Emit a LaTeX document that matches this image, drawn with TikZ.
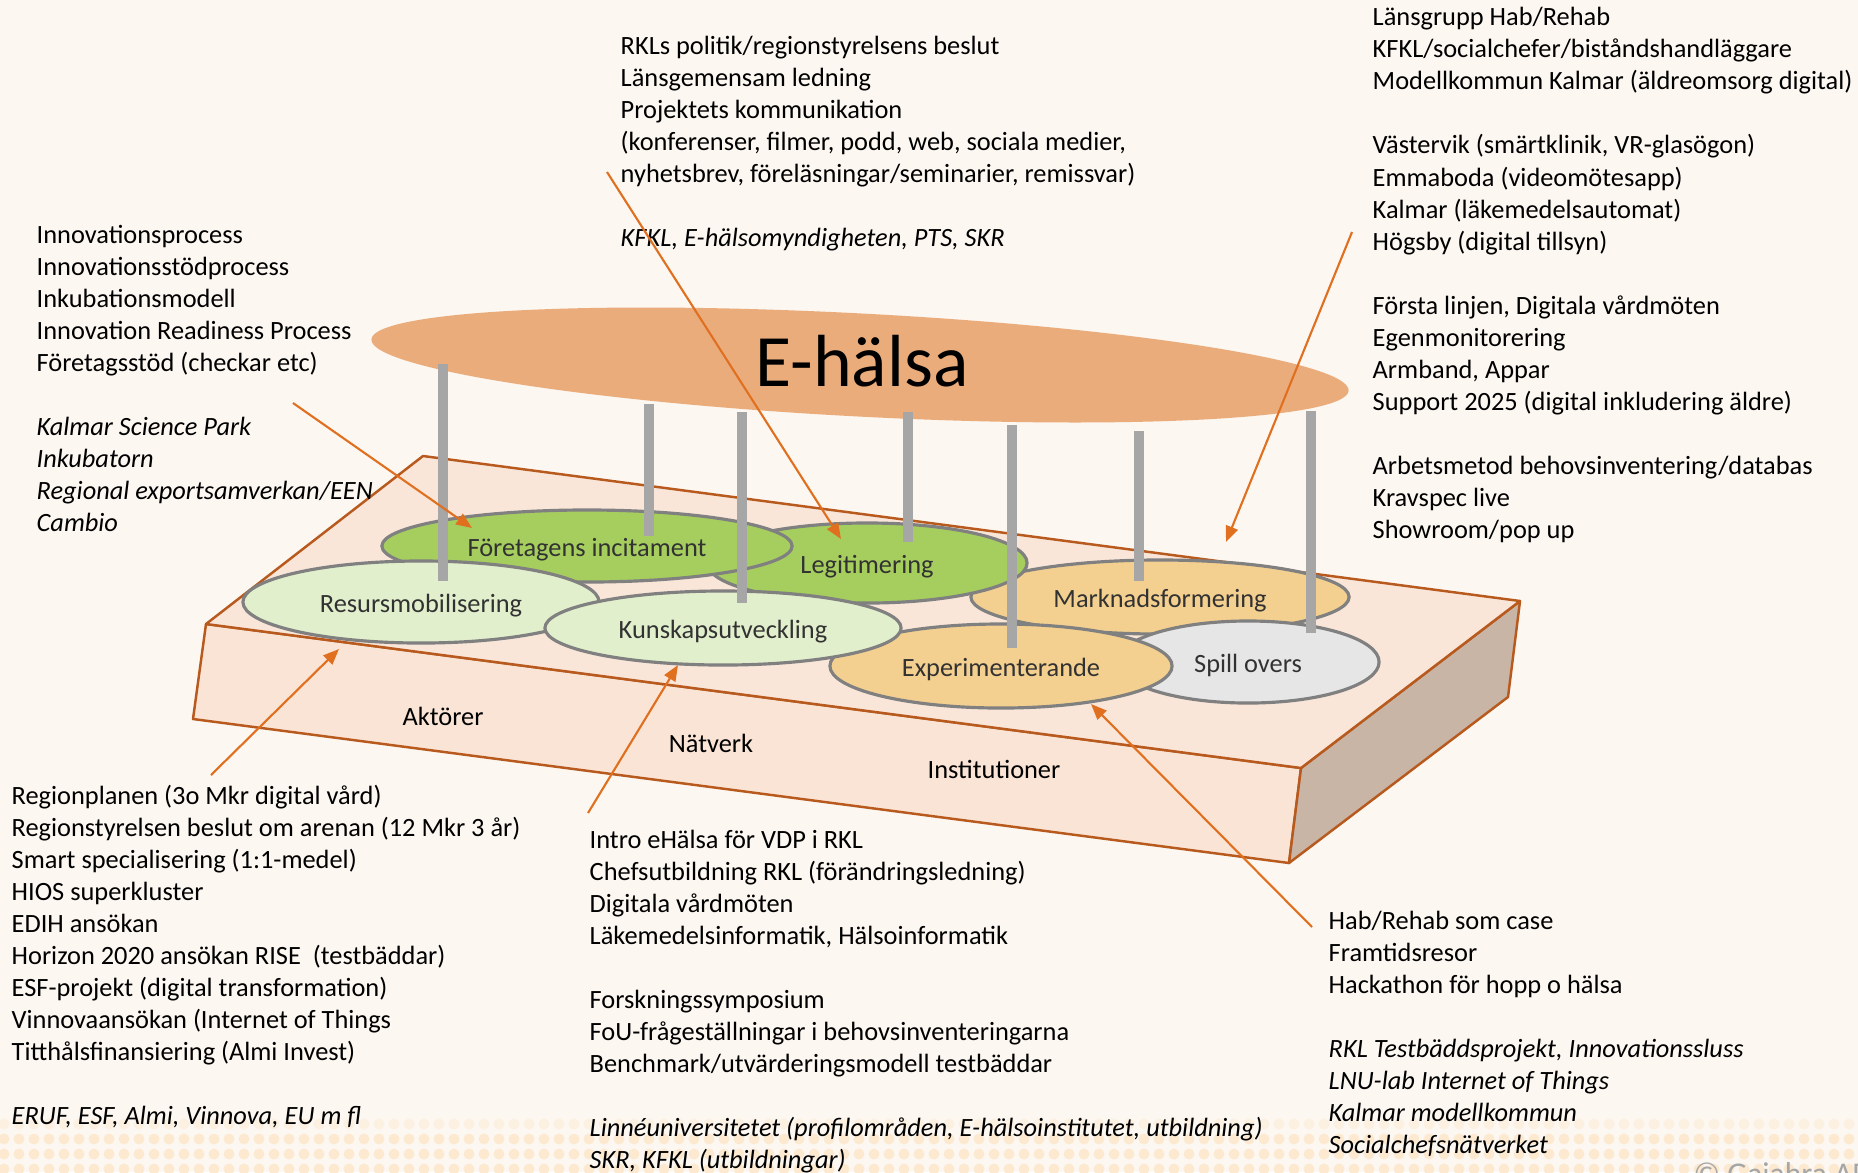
\documentclass[tikz,border=0pt]{standalone}
\usepackage{fontspec}
\setmainfont{Carlito}
\usetikzlibrary{shapes.geometric, arrows.meta}

\definecolor{bgcream}{RGB}{252,247,241}
\definecolor{dotpeach}{RGB}{252,233,207}
\definecolor{dotpale}{RGB}{252,240,225}
\definecolor{ehalsa}{RGB}{235,172,124}
\definecolor{slabtop}{RGB}{250,230,217}
\definecolor{slabfront}{RGB}{249,228,213}
\definecolor{slabside}{RGB}{201,181,166}
\definecolor{slabedge}{RGB}{184,90,30}
\definecolor{ringgray}{RGB}{128,128,128}
\definecolor{pillargray}{RGB}{166,166,166}
\definecolor{greendark}{RGB}{166,206,95}
\definecolor{greenlight}{RGB}{226,239,204}
\definecolor{sand}{RGB}{244,208,144}
\definecolor{fog}{RGB}{230,230,230}
\definecolor{arroworange}{RGB}{224,112,32}
\definecolor{labelgray}{RGB}{50,50,50}

\begin{document}
\begin{tikzpicture}[
    x=0.01cm, y=-0.01cm,
    txt/.style={anchor=base west, align=left, inner sep=0pt, font=\fontsize{7.5}{9.1}\selectfont},
    blob/.style={ellipse, draw=ringgray, line width=0.9pt, inner sep=0pt, text=labelgray,
                 text height=6.8pt, text depth=0.6pt, font=\fontsize{7.5}{9}\selectfont},
    slab/.style={draw=slabedge, line width=0.7pt, line join=round},
    pillar/.style={pillargray, line width=3.1pt},
    feed/.style={arroworange, line width=0.6pt, -{Triangle[length=4.5pt,width=3.6pt]}},
    lay/.style={font=\fontsize{7.5}{9}\selectfont, inner sep=0pt},
]
% Canvas in pixel units, y pointing down
\useasboundingbox (0,0) rectangle (1858,1172);
\fill[bgcream] (0,0) rectangle (1858,1172);
% Dotted band along the bottom edge
\foreach \r/\c in {1124/dotpale,1139/dotpeach,1154/dotpeach,1169/dotpeach}
  \foreach \k in {0,...,123}
    \fill[\c] ({4+15*\k},\r) circle[radius=0.055cm];

% Platform: front, side and top faces
\coordinate (backL)  at (423,456);
\coordinate (backR)  at (1520,601);
\coordinate (frontR) at (1301,768);
\coordinate (frontL) at (206,624);
\coordinate (baseL)  at (193,719);
\coordinate (baseR)  at (1289,863);
\coordinate (baseB)  at (1508,697);
\draw[slab, fill=slabfront] (frontL) -- (frontR) -- (baseR) -- (baseL) -- cycle;
\draw[slab, fill=slabside]  (frontR) -- (backR) -- (baseB) -- (baseR) -- cycle;
\draw[slab, fill=slabtop]   (backL) -- (backR) -- (frontR) -- (frontL) -- cycle;
\node[lay] (aktorer) at (443,716) {Aktörer};
\node[lay] (natverk) at (711,743) {Nätverk};
\node[lay] (instit)  at (994,769) {Institutioner};

% E-halsa disc
\fill[ehalsa, rotate around={-3:(860,365)}] (860,365) ellipse[x radius=4.89cm, y radius=0.515cm];
\node[inner sep=0pt, font=\fontsize{21}{24}\selectfont] (ehalsa) at (862,361) {E-hälsa};

% Process ellipses, back to front
\node[blob, fill=sand, minimum width=3.78cm, minimum height=0.74cm] (markn) at (1160,597) {Marknadsformering};
\node[blob, fill=greendark, minimum width=3.20cm, minimum height=0.80cm] (legit) at (867,563) {Legitimering};
\node[blob, fill=greendark, minimum width=4.10cm, minimum height=0.72cm] (foret) at (587,546) {Företagens incitament};
\node[blob, fill=greenlight, minimum width=3.56cm, minimum height=0.82cm] (resurs) at (421,602) {Resursmobilisering};
\node[blob, fill=fog, minimum width=2.62cm, minimum height=0.82cm] (spill) at (1248,662) {Spill overs};
\node[blob, fill=sand, minimum width=3.42cm, minimum height=0.84cm] (exper) at (1001,666) {Experimenterande};
\node[blob, fill=greenlight, minimum width=3.56cm, minimum height=0.74cm] (kunskap) at (723,628) {Kunskapsutveckling};

% Pillars from the disc down into the ellipses
\draw[pillar] (443,364) -- (443,581);
\draw[pillar] (649,404) -- (649,536);
\draw[pillar] (742,412) -- (742,603);
\draw[pillar] (908,412) -- (908,542);
\draw[pillar] (1012,425) -- (1012,648);
\draw[pillar] (1139,431) -- (1139,581);
\draw[pillar] (1311,411) -- (1311,633);

% Text blocks (anchored at the baseline of their last line)
\node[txt] (innov) at (36,531) {Innovationsprocess\\
  Innovationsstödprocess\\
  Inkubationsmodell\\
  Innovation Readiness Process\\
  Företagsstöd (checkar etc)\\[9.1pt]
  \textit{Kalmar Science Park}\\
  \textit{Inkubatorn}\\
  \textit{Regional exportsamverkan/EEN}\\
  \textit{Cambio}};
\node[txt] (politik) at (620,246) {RKLs politik/regionstyrelsens beslut\\
  Länsgemensam ledning\\
  Projektets kommunikation\\
  (konferenser, filmer, podd, web, sociala medier,\\
  nyhetsbrev, föreläsningar/seminarier, remissvar)\\[9.1pt]
  \textit{KFKL, E-hälsomyndigheten, PTS, SKR}};
\node[txt] (lans) at (1372,538) {Länsgrupp Hab/Rehab\\
  KFKL/socialchefer/biståndshandläggare\\
  Modellkommun Kalmar (äldreomsorg digital)\\[9.1pt]
  Västervik (smärtklinik, VR-glasögon)\\
  Emmaboda (videomötesapp)\\
  Kalmar (läkemedelsautomat)\\
  Högsby (digital tillsyn)\\[9.1pt]
  Första linjen, Digitala vårdmöten\\
  Egenmonitorering\\
  Armband, Appar\\
  Support 2025 (digital inkludering äldre)\\[9.1pt]
  Arbetsmetod behovsinventering/databas\\
  Kravspec live\\
  Showroom/pop up};
\node[txt] (region) at (11,1124) {Regionplanen (3o Mkr digital vård)\\
  Regionstyrelsen beslut om arenan (12 Mkr 3 år)\\
  Smart specialisering (1:1-medel)\\
  HIOS superkluster\\
  EDIH ansökan\\
  Horizon 2020 ansökan RISE\ \ (testbäddar)\\
  ESF-projekt (digital transformation)\\
  Vinnovaansökan (Internet of Things\\
  Titthålsfinansiering (Almi Invest)\\[9.1pt]
  \textit{ERUF, ESF, Almi, Vinnova, EU m fl}};
\node[txt] (intro) at (589,1168) {Intro eHälsa för VDP i RKL\\
  Chefsutbildning RKL (förändringsledning)\\
  Digitala vårdmöten\\
  Läkemedelsinformatik, Hälsoinformatik\\[9.1pt]
  Forskningssymposium\\
  FoU-frågeställningar i behovsinventeringarna\\
  Benchmark/utvärderingsmodell testbäddar\\[9.1pt]
  \textit{Linnéuniversitetet (profilområden, E-hälsoinstitutet, utbildning)}\\
  \textit{SKR, KFKL (utbildningar)}};
\node[txt] (habrehab) at (1328,1153) {Hab/Rehab som case\\
  Framtidsresor\\
  Hackathon för hopp o hälsa\\[9.1pt]
  \textit{RKL Testbäddsprojekt, Innovationssluss}\\
  \textit{LNU-lab Internet of Things}\\
  \textit{Kalmar modellkommun}\\
  \textit{Socialchefsnätverket}};
\node[anchor=base west, inner sep=0pt, text=gray!70, font=\fontsize{9}{10}\selectfont] (copyr) at (1693,1184) {© Gaiahra AB};

% Feed arrows from the text blocks into the model
\coordinate (innovTail)  at (293,403);
\coordinate (innovTip)   at (472,528);
\coordinate (politTail)  at (607,172);
\coordinate (politTip)   at (841,539);
\coordinate (lansTail)   at (1352,232);
\coordinate (lansTip)    at (1226,542);
\coordinate (regionTail) at (211,775);
\coordinate (regionTip)  at (339,649);
\coordinate (introTail)  at (588,813);
\coordinate (introTip)   at (678,665);
\coordinate (habTail)    at (1312,927);
\coordinate (habTip)     at (1091,704);
\draw[feed] (innovTail)  -- (innovTip);
\draw[feed] (politTail)  -- (politTip);
\draw[feed] (lansTail)   -- (lansTip);
\draw[feed] (regionTail) -- (regionTip);
\draw[feed] (introTail)  -- (introTip);
\draw[feed] (habTail)    -- (habTip);
\end{tikzpicture}
\end{document}
